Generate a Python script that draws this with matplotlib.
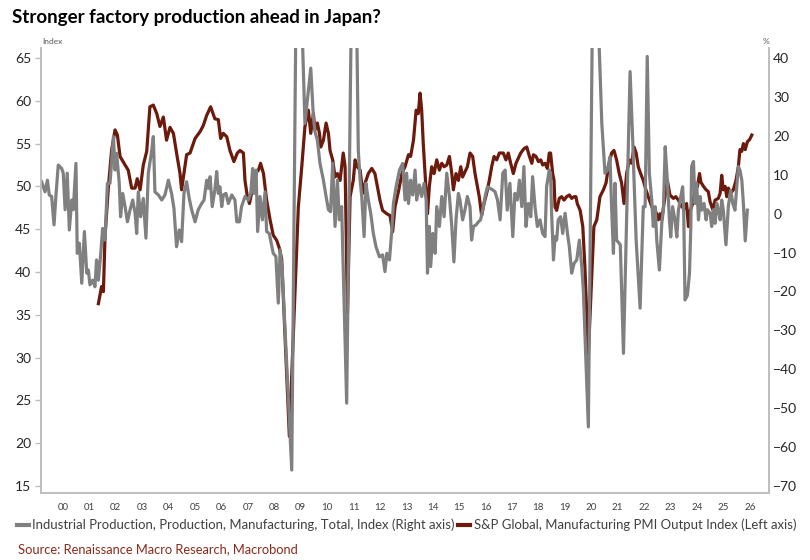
import matplotlib
matplotlib.use("Agg")
import matplotlib.pyplot as plt
from matplotlib.lines import Line2D

# ---------------- data (decimal years) ----------------
pmi_t = [2001.84, 2001.96, 2002.03, 2002.09, 2002.22, 2002.34, 2002.47, 2002.56, 2002.66, 2002.85,
         2002.97, 2003.10, 2003.23, 2003.31, 2003.42, 2003.54, 2003.67, 2003.79, 2003.92, 2004.05,
         2004.17, 2004.30, 2004.42, 2004.55, 2004.68, 2004.80, 2004.93, 2004.99, 2005.08, 2005.18,
         2005.31, 2005.50, 2005.69, 2005.81, 2005.94, 2006.09, 2006.25, 2006.38, 2006.47, 2006.57,
         2006.70, 2006.82, 2006.97, 2007.10, 2007.20, 2007.33, 2007.39, 2007.48, 2007.56, 2007.64,
         2007.77, 2007.90, 2007.98, 2008.09, 2008.21, 2008.34, 2008.46, 2008.59, 2008.69, 2008.78,
         2009.07, 2009.41, 2009.54, 2009.66, 2009.79, 2009.88, 2009.98, 2010.04, 2010.13, 2010.21,
         2010.26, 2010.36, 2010.46, 2010.55, 2010.61, 2010.71, 2010.80, 2010.89, 2010.99, 2011.11,
         2011.18, 2011.27, 2011.37, 2011.49, 2011.56, 2011.64, 2011.75, 2011.85, 2011.94, 2012.06,
         2012.19, 2012.31, 2012.40, 2012.50, 2012.60, 2012.76, 2012.88, 2012.98, 2013.07, 2013.20,
         2013.33, 2013.45, 2013.58, 2013.66, 2013.77, 2013.87, 2013.95, 2014.02, 2014.08, 2014.14,
         2014.21, 2014.30, 2014.37, 2014.46, 2014.55, 2014.65, 2014.75, 2014.84, 2014.93, 2015.03,
         2015.13, 2015.22, 2015.28, 2015.38, 2015.47, 2015.56, 2015.63, 2015.72, 2015.81, 2015.91,
         2016.01, 2016.10, 2016.19, 2016.26, 2016.35, 2016.44, 2016.54, 2016.64, 2016.73, 2016.82,
         2016.92, 2017.02, 2017.17, 2017.27, 2017.36, 2017.45, 2017.55, 2017.65, 2017.74, 2017.83,
         2017.95, 2018.06, 2018.16, 2018.25, 2018.31, 2018.41, 2018.50, 2018.59, 2018.66, 2018.75,
         2018.84, 2018.91, 2018.96, 2019.04, 2019.09, 2019.13, 2019.19, 2019.29, 2019.38, 2019.47,
         2019.57, 2019.67, 2019.76, 2019.85, 2019.92, 2019.97, 2020.08, 2020.18, 2020.26, 2020.39,
         2020.60, 2020.71, 2020.83, 2020.96, 2021.06, 2021.15, 2021.27, 2021.36, 2021.46, 2021.56,
         2021.65, 2021.74, 2021.84, 2021.94, 2022.03, 2022.12, 2022.20, 2022.28, 2022.37, 2022.47,
         2022.57, 2022.66, 2022.75, 2022.85, 2022.95, 2023.04, 2023.10, 2023.17, 2023.29, 2023.38,
         2023.48, 2023.61, 2023.70, 2023.80, 2023.93, 2024.05, 2024.11, 2024.18, 2024.24, 2024.34,
         2024.43, 2024.52, 2024.60, 2024.65, 2024.75, 2024.85, 2024.93, 2025.00, 2025.10, 2025.19,
         2025.31, 2025.38, 2025.44, 2025.50, 2025.57, 2025.63, 2025.69, 2025.78, 2025.88, 2025.98,
         2026.07, 2026.13, 2026.20, 2026.26, 2026.33, 2026.41, 2026.50, 2026.58]
pmi_v = [36.3, 38.3, 37.7, 44.1, 50.0, 54.2, 56.6, 56.0, 53.5, 52.5,
         51.9, 49.8, 49.8, 50.9, 49.6, 52.5, 54.1, 59.3, 59.5, 58.5,
         57.0, 58.1, 55.4, 56.9, 56.2, 53.9, 51.5, 49.6, 51.5, 53.7,
         53.9, 55.6, 56.4, 57.1, 58.3, 59.3, 57.9, 57.8, 55.6, 56.2,
         55.8, 54.2, 52.9, 53.9, 54.2, 53.9, 50.7, 48.8, 48.0, 49.2,
         51.5, 51.9, 52.7, 51.5, 48.4, 46.1, 44.3, 43.7, 42.8, 41.5,
         20.8, 47.6, 52.3, 57.0, 58.9, 56.2, 58.5, 56.6, 57.4, 56.2,
         54.6, 55.4, 57.4, 56.2, 54.2, 53.1, 51.1, 51.5, 50.7, 53.9,
         52.3, 35.2, 48.8, 50.7, 53.1, 52.3, 51.9, 49.2, 50.4, 51.5,
         52.1, 51.5, 50.0, 48.4, 47.2, 46.8, 46.6, 44.7, 47.6, 49.4,
         51.5, 52.3, 53.7, 53.5, 55.4, 58.9, 58.5, 60.9, 58.9, 55.0,
         51.5, 46.8, 50.0, 52.3, 51.5, 53.1, 51.9, 52.7, 52.3, 52.5,
         53.5, 51.5, 49.6, 51.5, 50.7, 52.3, 51.1, 51.7, 52.3, 53.9,
         53.5, 51.5, 50.0, 48.8, 46.6, 48.0, 49.2, 50.7, 52.3, 53.5,
         53.1, 53.9, 53.9, 53.1, 53.9, 52.7, 51.5, 52.7, 53.3, 53.9,
         54.4, 54.6, 53.5, 52.7, 53.7, 53.5, 52.9, 53.1, 52.5, 52.7,
         52.1, 53.9, 53.9, 51.5, 50.7, 47.6, 47.2, 48.6, 48.8, 48.4,
         48.8, 49.0, 48.6, 48.8, 48.8, 48.0, 47.2, 45.3, 40.6, 30.3,
         45.3, 46.1, 48.8, 49.6, 50.4, 52.3, 53.9, 54.2, 53.1, 51.5,
         50.4, 48.0, 51.5, 53.1, 52.7, 54.6, 53.9, 52.3, 51.5, 50.7,
         49.6, 48.8, 48.0, 47.2, 47.0, 46.1, 46.8, 46.1, 48.8, 50.7,
         49.0, 48.6, 48.8, 48.4, 47.6, 47.4, 48.0, 45.3, 47.1, 48.0,
         49.4, 50.0, 51.5, 50.5, 50.0, 49.6, 49.4, 48.2, 47.3, 48.4,
         48.6, 49.2, 51.3, 49.6, 50.0, 48.8, 49.8, 49.2, 49.6, 50.7,
         52.3, 54.3, 54.1, 55.0, 54.3, 55.2, 55.5, 56.0]

ip_t = [1999.69, 1999.82, 1999.91, 1999.98, 2000.07, 2000.16, 2000.23, 2000.32, 2000.45, 2000.51,
        2000.58, 2000.66, 2000.74, 2000.83, 2000.89, 2000.99, 2001.04, 2001.12, 2001.21, 2001.31,
        2001.40, 2001.46, 2001.52, 2001.62, 2001.71, 2001.77, 2001.84, 2001.93, 2002.00, 2002.09,
        2002.18, 2002.28, 2002.41, 2002.47, 2002.53, 2002.63, 2002.68, 2002.76, 2002.85, 2002.94,
        2003.04, 2003.14, 2003.23, 2003.29, 2003.35, 2003.44, 2003.54, 2003.64, 2003.73, 2003.86,
        2003.92, 2003.98, 2004.11, 2004.24, 2004.36, 2004.49, 2004.61, 2004.70, 2004.80, 2004.90,
        2004.99, 2005.08, 2005.18, 2005.28, 2005.37, 2005.50, 2005.62, 2005.75, 2005.84, 2005.94,
        2006.00, 2006.07, 2006.15, 2006.25, 2006.32, 2006.38, 2006.44, 2006.51, 2006.57, 2006.67,
        2006.76, 2006.89, 2007.01, 2007.08, 2007.18, 2007.26, 2007.39, 2007.52, 2007.61, 2007.68,
        2007.73, 2007.81, 2007.87, 2007.96, 2008.05, 2008.15, 2008.21, 2008.31, 2008.46, 2008.56,
        2008.65, 2008.72, 2008.80, 2009.16, 2009.33, 2009.50, 2009.66, 2009.88, 2009.98, 2010.04,
        2010.13, 2010.23, 2010.36, 2010.46, 2010.55, 2010.63, 2010.71, 2010.80, 2010.89, 2010.96,
        2011.05, 2011.24, 2011.43, 2011.60, 2011.68, 2011.75, 2011.81, 2011.90, 2011.97, 2012.06,
        2012.15, 2012.25, 2012.35, 2012.48, 2012.60, 2012.69, 2012.76, 2012.86, 2012.95, 2013.01,
        2013.11, 2013.24, 2013.36, 2013.45, 2013.51, 2013.58, 2013.66, 2013.74, 2013.83, 2013.89,
        2013.99, 2014.08, 2014.17, 2014.25, 2014.30, 2014.37, 2014.42, 2014.50, 2014.59, 2014.65,
        2014.75, 2014.84, 2014.93, 2015.03, 2015.13, 2015.22, 2015.30, 2015.38, 2015.47, 2015.53,
        2015.63, 2015.72, 2015.81, 2015.91, 2015.97, 2016.04, 2016.14, 2016.23, 2016.31, 2016.39,
        2016.48, 2016.57, 2016.67, 2016.77, 2016.86, 2016.95, 2017.05, 2017.15, 2017.24, 2017.32,
        2017.42, 2017.53, 2017.61, 2017.70, 2017.78, 2017.87, 2017.95, 2018.03, 2018.12, 2018.21,
        2018.28, 2018.37, 2018.46, 2018.56, 2018.66, 2018.75, 2018.81, 2018.91, 2018.96, 2019.00,
        2019.07, 2019.13, 2019.19, 2019.25, 2019.34, 2019.42, 2019.51, 2019.60, 2019.67, 2019.76,
        2019.85, 2019.95, 2020.05, 2020.14, 2020.20, 2020.39, 2020.55, 2020.74, 2020.90, 2021.02,
        2021.11, 2021.21, 2021.27, 2021.34, 2021.40, 2021.46, 2021.60, 2021.72, 2021.97, 2022.07,
        2022.12, 2022.20, 2022.35, 2022.47, 2022.54, 2022.62, 2022.70, 2022.79, 2022.85, 2022.92,
        2022.98, 2023.08, 2023.17, 2023.23, 2023.30, 2023.38, 2023.46, 2023.51, 2023.58, 2023.67,
        2023.74, 2023.80, 2023.89, 2023.96, 2024.00, 2024.05, 2024.14, 2024.22, 2024.27, 2024.30,
        2024.37, 2024.43, 2024.49, 2024.56, 2024.62, 2024.68, 2024.77, 2024.85, 2024.90, 2025.00,
        2025.06, 2025.12, 2025.19, 2025.25, 2025.31, 2025.38, 2025.44, 2025.50, 2025.60, 2025.69,
        2025.78, 2025.86, 2025.94, 2026.01, 2026.07, 2026.13, 2026.20, 2026.26, 2026.33, 2026.41]
ip_v = [8.2, 5.6, 8.6, 4.8, 4.4, -2.9, 4.4, 12.5, 11.6, 10.4,
        1.0, 10.4, -4.2, 3.5, 1.0, 12.9, -10.2, -7.6, -17.9, -4.6,
        -15.3, -14.5, -18.3, -17.1, -18.8, -11.9, -17.1, -10.2, -3.8, -6.8,
        7.8, 7.8, 19.8, 11.2, 15.5, 7.8, -0.8, 5.2, 1.8, -2.1,
        1.0, 3.5, 0.1, -5.1, 5.6, -0.8, 3.9, -6.3, 10.4, 16.3,
        19.8, 5.6, 4.8, 3.5, 4.8, 8.6, 5.2, 1.4, -8.5, -4.2,
        -7.2, 5.2, 8.2, 3.9, 1.0, -2.1, 1.0, 2.6, 3.5, 8.6,
        6.5, 9.5, 1.8, 6.1, 10.8, 5.2, 6.9, 1.8, 4.8, 5.2,
        2.6, 4.8, 3.5, -2.1, -2.1, 1.8, 4.4, 3.5, 5.2, 11.6,
        5.2, 11.2, -4.6, 4.4, -1.6, 5.6, -4.6, -5.1, -10.2, -11.0,
        -23.0, -9.3, -14.5, -65.9, 60.0, 60.0, 23.2, 37.4, 24.9, 21.1,
        18.9, 12.9, 8.6, 4.4, 1.0, 0.5, 12.9, -3.3, 8.6, -1.6,
        1.8, -48.7, 60.0, 60.0, 16.3, 8.6, 4.4, -5.9, 7.8, 3.5,
        0.1, -5.1, -8.5, -11.1, -10.6, -14.9, -10.2, -11.9, -4.2, 2.6,
        6.9, 11.2, 12.9, 3.5, 10.4, 2.6, 8.6, 4.8, 11.2, 3.5,
        7.4, 4.4, 7.8, 3.5, -15.3, -3.3, -13.6, -5.1, -10.2, 1.8,
        -3.3, 4.4, -0.8, 10.4, 4.4, -3.3, -12.4, -1.6, 5.2, 3.5,
        -1.6, 1.0, 4.4, 1.8, -6.8, -3.3, -2.9, -2.1, -1.6, 1.0,
        4.4, 6.9, 6.5, 6.1, 5.6, 3.5, -1.6, 10.4, 11.2, 0.9,
        7.8, -5.9, 5.2, 3.5, 8.6, 1.8, 12.1, -3.3, 2.6, -0.8,
        9.5, 1.8, -3.3, -1.6, -5.1, -5.9, 6.9, 11.2, 10.4, 0.1,
        -11.9, -5.9, -6.8, -1.6, -0.8, -5.1, 0.1, -5.1, -8.5, -15.3,
        -12.8, -11.9, -6.8, -13.6, -19.6, -54.8, 55.0, 55.0, 23.2, 10.4,
        11.2, 14.6, 1.8, -10.2, 7.8, -6.8, -8.0, -35.9, 36.5, 18.9,
        8.6, -6.8, -24.3, 1.8, 1.8, 40.4, 10.4, 3.5, -3.3, 1.8,
        -6.8, -14.5, -2.5, 0.9, 17.2, 8.6, -1.6, -6.0, 1.8, -1.6,
        -6.0, 0.9, 4.4, 6.9, 0.9, -22.2, -21.0, -15.3, -3.3, 12.1,
        13.4, 2.6, 7.8, -1.6, 4.4, 0.9, 2.6, -1.6, 1.0, 0.1,
        -3.3, 1.0, -2.5, 2.7, 0.9, -1.6, 3.5, 0.9, -8.0, 1.8,
        6.0, 2.6, 0.9, 6.9, 12.1, 11.2, 8.6, 2.6, -7.0, 0.9]

years = list(range(2000, 2027))
year_labels = [f"{y % 100:02d}" for y in years]
left_ticks = [15, 20, 25, 30, 35, 40, 45, 50, 55, 60, 65]
right_ticks = [-70, -60, -50, -40, -30, -20, -10, 0, 10, 20, 30, 40]

title = "Stronger factory production ahead in Japan?"
ip_label = "Industrial Production, Production, Manufacturing, Total, Index (Right axis)"
pmi_label = "S&P Global, Manufacturing PMI Output Index (Left axis)"
source = "Source: Renaissance Macro Research, Macrobond"

# ---------------- style ----------------
FONT = ["Lato", "DejaVu Sans"]
plt.rcParams["font.family"] = FONT
GRAY = "#808080"
RED = "#6b1a0c"
SPINE = "#bfbfbf"

W, H = 810, 560
fig = plt.figure(figsize=(W / 100, H / 100), dpi=100)

ax_l_px, ax_r_px, ax_t_px, ax_b_px = 41, 769, 48, 493
ax = fig.add_axes([ax_l_px / W, 1 - ax_b_px / H, (ax_r_px - ax_l_px) / W, (ax_b_px - ax_t_px) / H])
ax2 = ax.twinx()

ax.plot(pmi_t, pmi_v, color=RED, lw=2.3, solid_joinstyle="round", zorder=3)
ax2.plot(ip_t, ip_v, color=GRAY, lw=2.3, solid_joinstyle="round", zorder=2)

ax.set_ylim(14.18, 66.17)
ax2.set_ylim(-71.80, 42.57)
ax.set_xlim(1999.667, 2027.23)

ax.set_yticks(left_ticks)
ax2.set_yticks(right_ticks)
ax.set_xticks([y + 0.5 for y in years])
ax.set_xticklabels(year_labels)

for a in (ax, ax2):
    a.spines["top"].set_visible(False)
    for s in ("left", "right", "bottom"):
        a.spines[s].set_color(SPINE)
        a.spines[s].set_linewidth(1.3)
    a.patch.set_visible(False)

ax.tick_params(axis="y", length=4, width=1, color=SPINE, labelsize=10, labelcolor="#262626", pad=3)
ax2.tick_params(axis="y", length=0, labelsize=10, labelcolor="#262626", pad=3)
ax.tick_params(axis="x", length=0, labelsize=7, labelcolor="#404040", pad=7)

fig.text(42 / W, 1 - 41 / H, "Index", fontsize=6, color="#595959", ha="left", va="center")
fig.text(766 / W, 1 - 41 / H, "%", fontsize=6, color="#595959", ha="center", va="center")

renderer = fig.canvas.get_renderer()

def fit(txt, target_w):
    bb = txt.get_window_extent(renderer)
    txt.set_fontsize(txt.get_fontsize() * target_w / bb.width)

t = fig.text(12 / W, 1 - 17 / H, title, fontsize=14, fontweight="bold", color="#000000",
             ha="left", va="center")
fit(t, 373)

s = fig.text(18 / W, 1 - 549 / H, source, fontsize=9, color="#8b2a1a", ha="left", va="center")
fit(s, 282)

handles = [Line2D([], [], color=GRAY, lw=3), Line2D([], [], color=RED, lw=3)]

def make_legend(fs):
    return fig.legend(handles, [ip_label, pmi_label], loc="center",
                      bbox_to_anchor=(406.5 / W, 1 - 525 / H), ncol=2, frameon=False,
                      fontsize=fs, handlelength=0.9, handletextpad=0.25, columnspacing=0.3,
                      borderpad=0, labelcolor="#404040")

leg = make_legend(9)
bb = leg.get_window_extent(renderer)
fs = 9 * 777 / bb.width
leg.remove()
leg = make_legend(fs)

fig.savefig("out.png", dpi=100)
